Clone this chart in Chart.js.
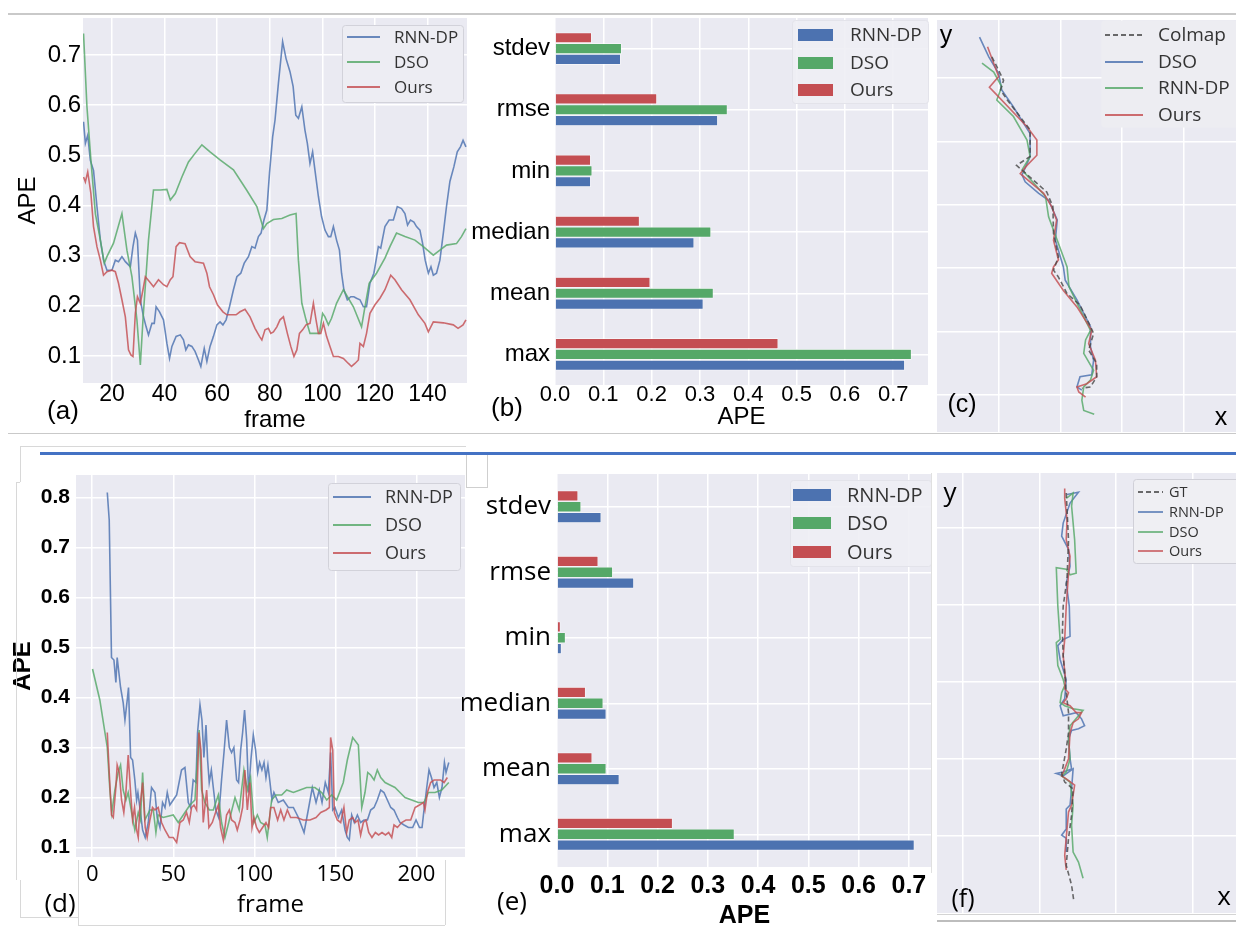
<!DOCTYPE html>
<html><head><meta charset="utf-8">
<script src="https://cdn.jsdelivr.net/npm/chart.js@4.4.0/dist/chart.umd.min.js"></script>
<style>
html,body{margin:0;padding:0;background:#fff;}
body{width:1236px;height:929px;position:relative;overflow:hidden;font-family:"Liberation Sans",Arial,sans-serif;}
canvas{position:absolute;}
.lbl{position:absolute;transform:translate(-50%,-50%);line-height:1;white-space:nowrap;color:#000;z-index:5;}
.dec{position:absolute;z-index:4;}
</style></head><body>
<div class="dec" style="left:8px;top:13px;width:1228px;height:1.5px;background:#c9c9c9"></div>
<div class="dec" style="left:8px;top:432.5px;width:1228px;height:1.5px;background:#c9c9c9"></div>
<div class="dec" style="left:40px;top:451.5px;width:1196px;height:3px;background:#4472C4"></div>
<div class="dec" style="left:20px;top:446px;width:446px;height:1px;background:#d8d8d8"></div>
<div class="dec" style="left:20px;top:446px;width:1px;height:36px;background:#d8d8d8"></div>
<div class="dec" style="left:16px;top:482px;width:4px;height:1px;background:#d8d8d8"></div>
<div class="dec" style="left:16px;top:482px;width:1px;height:398px;background:#d8d8d8"></div>
<div class="dec" style="left:20px;top:880px;width:1px;height:37px;background:#d8d8d8"></div>
<div class="dec" style="left:20px;top:917px;width:58px;height:1px;background:#d8d8d8"></div>
<div class="dec" style="left:78px;top:860px;width:1px;height:65px;background:#d8d8d8"></div>
<div class="dec" style="left:78px;top:925px;width:367px;height:1px;background:#d8d8d8"></div>
<div class="dec" style="left:445px;top:860px;width:1px;height:65px;background:#d8d8d8"></div>
<div class="dec" style="left:466px;top:455px;width:20px;height:32px;border:1px solid #cfcfcf;border-top:none"></div>
<div class="dec" style="left:931px;top:473px;width:1px;height:400px;background:#e0e0e0"></div>
<div class="dec" style="left:937px;top:914px;width:299px;height:1px;background:#d4d4d4"></div>
<div class="dec" style="left:937px;top:920px;width:299px;height:1.5px;background:#bdbdbd"></div>

<div class="lbl" style="left:63px;top:410px;font-size:26px;">(a)</div>
<div class="lbl" style="left:507px;top:407px;font-size:26px;">(b)</div>
<div class="lbl" style="left:962px;top:403px;font-size:25px;">(c)</div>
<div class="lbl" style="left:946px;top:34px;font-size:25px;">y</div>
<div class="lbl" style="left:1221px;top:416px;font-size:25px;">x</div>
<div class="lbl" style="left:60px;top:902px;font-size:26px;font-family:'Open Sans',sans-serif;">(d)</div>
<div class="lbl" style="left:512px;top:900px;font-size:26px;font-family:'Open Sans',sans-serif;">(e)</div>
<div class="lbl" style="left:963px;top:897px;font-size:25px;font-family:'Open Sans',sans-serif;">(f)</div>
<div class="lbl" style="left:950px;top:491px;font-size:26px;font-family:'Open Sans',sans-serif;">y</div>
<div class="lbl" style="left:1224px;top:895px;font-size:26px;font-family:'Open Sans',sans-serif;">x</div>

<script>
// ---------------- DATA ----------------
// (a) APE per frame, sequence 1
const frameTicksA = [20, 40, 60, 80, 100, 120, 140];
const apeTicksA = [0.1, 0.2, 0.3, 0.4, 0.5, 0.6, 0.7];
const rnnDpA = [[9.2,.567],[9.9,.524],[10.8,.54],[11.8,.49],[13,.47],[14.3,.398],[15.6,.331],[16.8,.291],[18.1,.271],[20,.271],[21.3,.291],[22.5,.288],[23.8,.298],[25.1,.288],[27,.278],[28,.318],[28.9,.345],[29.7,.331],[30.8,.212],[32,.178],[33,.158],[33.9,.142],[35.2,.165],[36.1,.165],[36.8,.198],[38.1,.188],[39.6,.172],[40.9,.125],[41.9,.095],[42.8,.119],[44.4,.139],[46,.142],[47.2,.132],[48.1,.112],[49.1,.122],[50.4,.119],[51.6,.109],[52.9,.092],[53.8,.079],[55.1,.115],[56.1,.089],[57.3,.119],[58.6,.139],[59.9,.162],[61.1,.168],[62.2,.162],[63.4,.172],[64.7,.198],[66.2,.232],[67.5,.258],[69,.265],[70.3,.285],[71.9,.298],[73.2,.318],[74.4,.315],[75.7,.338],[76.7,.345],[77.8,.371],[78.9,.391],[79.9,.464],[81.1,.537],[82,.57],[83.3,.644],[84.9,.727],[86.2,.693],[87.7,.667],[88.9,.637],[89.9,.58],[90.9,.574],[92.2,.597],[93.4,.55],[94.3,.524],[95.3,.484],[96.3,.507],[97.2,.47],[98.5,.418],[99.7,.378],[101,.351],[102.3,.338],[103.2,.338],[104.2,.358],[105.4,.331],[106.5,.311],[107.3,.265],[108.2,.232],[109.5,.212],[110.8,.218],[112,.218],[113,.215],[114.3,.212],[115.6,.198],[116.8,.198],[118.1,.245],[119.6,.265],[121.3,.318],[122.2,.315],[123.8,.358],[125.4,.371],[127,.371],[128.5,.398],[130.1,.394],[131.4,.384],[132.4,.361],[133.5,.371],[134.8,.367],[135.8,.358],[137.1,.351],[138.1,.325],[139.1,.291],[140.3,.265],[141.3,.278],[142.2,.261],[143.4,.265],[144.7,.291],[146,.345],[147.2,.398],[148.5,.448],[150,.477],[151.3,.507],[152.5,.517],[153.5,.53],[154.6,.517]];
const dsoA = [[9.2,.743],[10.5,.597],[12,.491],[13.7,.384],[15.6,.331],[17.1,.285],[18.1,.298],[20.6,.325],[23.8,.384],[25.7,.311],[27.6,.258],[29.5,.172],[30.8,.082],[31.8,.172],[33.9,.331],[35.8,.431],[38.4,.431],[40.9,.432],[42.2,.411],[44.1,.424],[46.6,.457],[49.1,.487],[51.6,.504],[54.2,.521],[57.3,.507],[61.1,.491],[66.2,.471],[71.2,.431],[75.1,.398],[77.6,.354],[78.9,.364],[81.4,.372],[84.6,.374],[87.7,.381],[90,.384],[90.9,.291],[92.2,.205],[93.8,.172],[95.3,.145],[97.2,.145],[98.9,.145],[100.1,.185],[101,.178],[102.3,.162],[103.5,.175],[105.4,.205],[108,.232],[111.8,.198],[114.9,.158],[116.2,.198],[117.8,.245],[120.6,.265],[123.8,.295],[125.7,.318],[128.2,.345],[131.4,.338],[135.2,.331],[138.4,.318],[142.2,.301],[144.7,.311],[147.2,.321],[151,.324],[152.9,.338],[154.6,.354]];
const oursA = [[9.2,.457],[9.9,.447],[10.8,.467],[12,.424],[13,.358],[14.3,.318],[15.6,.291],[16.8,.261],[18.1,.268],[20,.271],[21.3,.268],[22.5,.245],[23.8,.212],[25.1,.178],[26.3,.112],[27.2,.102],[28,.099],[28.9,.185],[29.7,.218],[30.8,.205],[31.8,.232],[32.7,.258],[34.3,.248],[35.8,.238],[37.7,.252],[39.6,.242],[40.9,.238],[42.2,.252],[43.2,.258],[44.4,.318],[45.7,.326],[47.8,.324],[49.7,.298],[51.6,.288],[54.8,.285],[56.1,.265],[57.1,.238],[58.6,.222],[60.1,.202],[62.2,.188],[63.7,.182],[65.6,.182],[67.2,.182],[68.7,.188],[70.6,.193],[72.5,.178],[74.4,.155],[76.1,.139],[77,.132],[78.2,.152],[79.5,.155],[80.4,.145],[81.4,.148],[82.7,.158],[83.9,.172],[85.2,.178],[86.7,.145],[88,.119],[89.2,.099],[90.3,.112],[91.3,.145],[92.5,.152],[93.8,.162],[95.3,.165],[96.6,.205],[97.6,.172],[98.5,.145],[99.4,.145],[100.4,.165],[101.6,.139],[102.9,.119],[104.2,.099],[106.1,.099],[108,.095],[109.9,.085],[111.1,.079],[112.4,.085],[113.7,.092],[114.3,.125],[115.6,.119],[116.8,.145],[118.1,.185],[120,.202],[121.9,.215],[123.8,.232],[126,.261],[127.6,.252],[130.1,.232],[133.3,.212],[136.5,.182],[139,.165],[140.3,.148],[142.2,.168],[146,.166],[149.8,.162],[151.6,.155],[153.5,.162],[154.6,.172]];

// (b) APE statistics, sequence 1
const statLabels = ['stdev', 'rmse', 'min', 'median', 'mean', 'max'];
const apeTicksBar = [0, 0.1, 0.2, 0.3, 0.4, 0.5, 0.6, 0.7];
const rnnDpB = [0.136, 0.337, 0.074, 0.288, 0.307, 0.724];
const dsoB   = [0.138, 0.357, 0.077, 0.323, 0.328, 0.738];
const oursB  = [0.076, 0.211, 0.074, 0.175, 0.197, 0.462];

// (c) trajectories, sequence 1 (x, y)
const gridXC = [1, 2, 3, 4];
const gridYC = [0, 1, 2, 3, 4, 5];
const colmapC = [[0.89,5.33],[1.08,4.96],[1.03,4.81],[1.14,4.65],[1.51,4.18],[1.51,3.76],[1.29,3.62],[1.41,3.52],[1.78,3.20],[1.88,2.97],[1.89,2.55],[1.97,2.18],[1.89,1.97],[1.97,1.86],[2.11,1.60],[2.32,1.42],[2.49,1.08],[2.54,0.97],[2.46,0.71],[2.59,0.50],[2.59,0.29],[2.49,0.13],[2.35,0.11]];
const dsoC = [[0.69,5.64],[0.84,5.33],[1.00,5.07],[1.05,4.81],[1.24,4.54],[1.51,4.12],[1.51,3.76],[1.38,3.47],[1.43,3.36],[1.65,3.18],[1.81,3.07],[1.95,2.76],[1.92,2.44],[2.05,2.02],[2.08,1.81],[2.27,1.50],[2.49,1.08],[2.49,0.76],[2.54,0.55],[2.51,0.32],[2.32,0.29],[2.27,0.13],[2.35,0.08]];
const rnnDpC = [[0.73,5.23],[0.92,5.09],[1.05,4.86],[0.97,4.65],[1.24,4.39],[1.46,4.02],[1.51,3.76],[1.38,3.55],[1.76,3.13],[1.81,2.81],[1.89,2.60],[1.97,2.39],[2.11,2.02],[2.14,1.71],[2.30,1.39],[2.49,1.02],[2.41,0.87],[2.38,0.66],[2.54,0.39],[2.49,0.24],[2.38,0.13],[2.35,-0.08],[2.38,-0.24],[2.55,-0.30]];
const oursC = [[0.82,5.49],[1.00,5.02],[0.85,4.85],[0.95,4.75],[1.46,4.23],[1.62,4.02],[1.62,3.78],[1.46,3.62],[1.35,3.49],[1.73,3.18],[1.86,2.97],[1.94,2.76],[1.89,2.44],[1.97,2.13],[1.89,2.02],[1.86,1.92],[2.05,1.65],[2.27,1.39],[2.51,1.02],[2.46,0.81],[2.57,0.55],[2.59,0.29],[2.43,0.18],[2.27,0.13],[2.30,0.05],[2.41,-0.03]];

// (d) APE per frame, sequence 2
const frameTicksD = [0, 50, 100, 150, 200];
const apeTicksD = [0.1, 0.2, 0.3, 0.4, 0.5, 0.6, 0.7, 0.8];
const rnnDpD = [[9.3,.81],[10.5,.755],[11.9,.48],[13.4,.475],[14.6,.43],[15.4,.48],[17.5,.42],[19.1,.39],[20.2,.355],[21.6,.395],[22.4,.42],[23.7,.28],[24.9,.275],[26.3,.235],[27.4,.195],[28.2,.21],[29.4,.18],[31.1,.135],[32.7,.12],[34.6,.15],[36.6,.22],[38.7,.21],[40.1,.16],[41.8,.14],[43.4,.19],[44.9,.18],[46.3,.21],[47.9,.185],[50,.195],[52.1,.205],[55.1,.255],[57.2,.26],[59.3,.19],[60.7,.18],[62.3,.235],[64,.23],[65,.33],[66.5,.385],[67.7,.355],[68.9,.28],[70.2,.345],[71.2,.275],[72.2,.23],[73.5,.255],[74.7,.22],[76.3,.175],[78,.16],[79.8,.235],[81.3,.29],[82.9,.355],[84.6,.3],[86,.29],[87.4,.3],[89.1,.235],[90.3,.23],[91.6,.295],[92.8,.33],[94,.375],[95.3,.315],[96.5,.21],[97.9,.275],[99.4,.325],[100.8,.295],[102.1,.25],[103.3,.27],[104.7,.255],[106,.27],[107.2,.24],[108.4,.265],[109.7,.23],[110.9,.195],[112.1,.21],[114.8,.19],[117.9,.195],[121,.18],[124.1,.18],[127.2,.16],[130.7,.13],[133.3,.175],[135.8,.22],[138.1,.19],[140.1,.215],[141.8,.19],[143.8,.23],[145.7,.21],[147.1,.29],[148.4,.175],[149.8,.18],[151.9,.16],[153.9,.175],[156,.135],[157.4,.12],[158.6,.115],[160.1,.165],[161.7,.15],[163.6,.165],[165.6,.15],[167.7,.155],[169.8,.155],[171.8,.175],[173.9,.18],[175.9,.195],[178,.215],[180,.21],[182.1,.195],[184.2,.18],[186.2,.175],[188.3,.16],[189.9,.15],[192.4,.145],[195.1,.14],[197.7,.14],[199.8,.155],[201.9,.14],[203.5,.14],[204.7,.175],[206.4,.22],[207.8,.255],[209.3,.24],[210.9,.22],[212.6,.23],[214.2,.2],[215.8,.22],[217.3,.27],[218.3,.25],[220,.27]];
const dsoD = [[0.2,.457],[4.7,.395],[9.3,.3],[10.9,.215],[12.1,.17],[14,.215],[16,.25],[17.5,.265],[19.1,.215],[20.8,.195],[22.2,.21],[24.3,.17],[26.3,.135],[28.4,.17],[29.8,.155],[31.1,.25],[32.5,.155],[35.6,.175],[37.7,.175],[39.3,.13],[40.7,.165],[43.8,.16],[50,.165],[53.1,.15],[57.2,.17],[60.3,.185],[63.4,.195],[66,.335],[67.5,.215],[69.5,.19],[72.2,.175],[74.7,.175],[77.8,.205],[79.8,.15],[81.9,.12],[85,.16],[88.1,.2],[90.7,.175],[93.6,.255],[95.7,.215],[97.7,.24],[99.8,.15],[101.9,.165],[103.9,.15],[106.6,.145],[108,.12],[110.7,.195],[113.4,.205],[116.9,.205],[120,.215],[124.1,.21],[128.2,.215],[132.3,.22],[137.4,.22],[141.6,.21],[144.7,.195],[147.7,.205],[150.8,.195],[154.9,.23],[157.4,.275],[160.7,.32],[164.2,.305],[166.3,.18],[168.3,.21],[170,.25],[171.8,.245],[173.9,.235],[175.9,.255],[178,.24],[180.7,.23],[183.7,.225],[186.8,.22],[189.9,.21],[193,.2],[197.1,.195],[201.2,.19],[204.7,.19],[207.4,.21],[211.5,.21],[215.6,.215],[220,.23]];
const oursD = [[9.3,.33],[10.5,.25],[11.9,.165],[13,.16],[14.6,.22],[15.4,.265],[16.7,.25],[18.1,.195],[19.5,.17],[20.8,.21],[22.2,.285],[23.7,.21],[24.9,.155],[26.1,.18],[27.4,.135],[28.4,.12],[29.4,.18],[31.1,.23],[32.7,.14],[33.9,.12],[35.6,.155],[37.2,.18],[38.7,.175],[40.7,.18],[42.8,.15],[44.9,.135],[47.5,.12],[50,.12],[52.1,.11],[54.1,.15],[56.2,.155],[58.2,.17],[59.9,.15],[61.3,.18],[62.8,.185],[64.4,.175],[65.8,.33],[67.1,.295],[68.5,.15],[70.6,.215],[72,.14],[74.1,.15],[76.1,.17],[77.8,.185],[79.2,.14],[80.9,.115],[82.9,.165],[84.6,.175],[86,.155],[88.1,.15],[89.5,.135],[91.2,.155],[92.8,.18],[94.2,.255],[95.7,.175],[97.3,.23],[98.6,.14],[99.8,.16],[101.4,.14],[103.1,.13],[105.1,.14],[107.2,.15],[108.8,.14],[110.1,.18],[112.1,.18],[114.4,.155],[116.3,.175],[118.3,.155],[120.4,.175],[122.4,.16],[126.1,.16],[130.2,.155],[134.4,.155],[138.1,.16],[141,.17],[144.3,.175],[146.3,.18],[147.1,.32],[148.4,.295],[149.4,.17],[151.2,.155],[153.3,.15],[155.3,.18],[157,.13],[158.6,.155],[160.7,.16],[162.3,.15],[164,.155],[165.6,.125],[167.3,.15],[168.9,.155],[170.6,.13],[172.6,.12],[174.7,.13],[176.7,.125],[178.8,.13],[180.9,.125],[182.9,.13],[184.8,.12],[186.2,.145],[188.3,.14],[190.9,.15],[193.6,.155],[196.5,.155],[199.2,.18],[201.9,.185],[204.3,.19],[205.3,.175],[206.8,.21],[208.8,.23],[210.9,.235],[213,.235],[215,.235],[217.1,.23],[219.1,.24]];

// (e) APE statistics, sequence 2
const rnnDpE = [0.088, 0.153, 0.009, 0.098, 0.124, 0.711];
const dsoE   = [0.048, 0.111, 0.017, 0.092, 0.098, 0.353];
const oursE  = [0.042, 0.082, 0.007, 0.057, 0.070, 0.230];

// (f) trajectories, sequence 2 (x, y)
const gridXF = [0, 1, 2, 3];
const gridYF = [0, 1, 2, 3, 4];
const gtF = [[1.35,4.45],[1.38,3.84],[1.36,3.33],[1.31,2.98],[1.30,2.64],[1.31,2.34],[1.33,2.12],[1.35,1.86],[1.38,1.60],[1.38,1.34],[1.35,1.13],[1.31,0.91],[1.29,0.81],[1.33,0.70],[1.44,0.61],[1.42,0.27],[1.38,-0.03],[1.35,-0.38],[1.42,-0.64],[1.45,-0.85]];
const rnnDpF = [[1.36,4.43],[1.51,4.46],[1.40,4.32],[1.31,4.06],[1.29,3.89],[1.38,3.72],[1.40,3.50],[1.35,3.28],[1.39,2.98],[1.40,2.59],[1.31,2.55],[1.24,2.47],[1.27,2.29],[1.35,2.03],[1.33,1.78],[1.27,1.69],[1.31,1.56],[1.48,1.60],[1.55,1.52],[1.59,1.43],[1.51,1.39],[1.42,1.37],[1.38,1.26],[1.40,1.00],[1.42,0.87],[1.31,0.83],[1.22,0.81],[1.31,0.78],[1.44,0.87],[1.42,0.61],[1.40,0.40],[1.35,0.35],[1.35,0.09],[1.29,0.01],[1.35,-0.03],[1.35,-0.21]];
const dsoF = [[1.35,4.38],[1.44,4.45],[1.42,4.28],[1.46,3.84],[1.48,3.41],[1.40,3.39],[1.35,3.46],[1.22,3.48],[1.24,2.98],[1.27,2.55],[1.22,2.51],[1.24,2.21],[1.31,2.03],[1.33,1.95],[1.29,1.86],[1.27,1.73],[1.33,1.69],[1.44,1.65],[1.57,1.63],[1.51,1.56],[1.40,1.43],[1.38,1.26],[1.40,1.00],[1.35,0.83],[1.29,0.78],[1.40,0.70],[1.44,0.40],[1.42,0.14],[1.44,-0.21],[1.51,-0.34],[1.57,-0.55]];
const oursF = [[1.33,4.51],[1.33,4.38],[1.36,4.10],[1.35,3.84],[1.40,3.63],[1.38,3.41],[1.35,2.98],[1.33,2.55],[1.31,2.34],[1.34,2.03],[1.33,1.91],[1.38,1.86],[1.35,1.78],[1.31,1.73],[1.40,1.69],[1.48,1.60],[1.55,1.60],[1.51,1.52],[1.44,1.47],[1.40,1.34],[1.38,1.00],[1.33,0.87],[1.29,0.78],[1.35,0.74],[1.46,0.66],[1.42,0.40],[1.38,0.31],[1.33,-0.25],[1.35,-0.44]];

// ---------------- STYLE / LAYOUT ----------------
const BG = '#EAEAF2';
const BLUE = 'rgba(76,114,176,0.82)', GREEN = 'rgba(85,168,104,0.82)', RED = 'rgba(196,78,82,0.82)', GRAY = 'rgba(70,70,70,0.8)';
const BLUE_S = '#4C72B0', GREEN_S = '#55A868', RED_S = '#C44E52';
const LS = '"Liberation Sans", Arial, sans-serif';
const OS = '"Open Sans", sans-serif';
Chart.defaults.font.family = LS;
Chart.defaults.color = '#000';

const P = {
  a: {L:0,   T:0,   W:470, H:440, area:[83,18,467,383]},
  b: {L:462, T:0,   W:472, H:440, area:[555,18,928,385]},
  c: {L:930, T:0,   W:306, H:440, area:[937,20,1236,432]},
  d: {L:0,   T:455, W:470, H:474, area:[76,475,465,857]},
  e: {L:462, T:455, W:475, H:474, area:[557,473,932,867]},
  f: {L:930, T:455, W:306, H:474, area:[937,473,1236,913]}
};

function fnt(size, family, weight) { return {size, family: family || LS, weight: weight || 'normal', lineHeight: 1}; }
function geom(p) {
  const [l, t, r, b] = p.area;
  return {padding: {left: 0, top: t - p.T, right: p.L + p.W - r, bottom: 0}, yW: l - p.L, xH: p.T + p.H - b};
}
function makeCanvas(p) {
  const c = document.createElement('canvas');
  c.width = p.W; c.height = p.H;
  c.style.left = p.L + 'px'; c.style.top = p.T + 'px';
  c.style.width = p.W + 'px'; c.style.height = p.H + 'px';
  document.body.appendChild(c);
  return c;
}
function valueAxis(min, max, ticks, o) {
  return {
    type: 'linear', min, max,
    afterBuildTicks: s => { s.ticks = ticks.map(v => ({value: v})); },
    afterFit: o.fit,
    grid: {color: '#ffffff', lineWidth: 1.5, drawTicks: false},
    border: {display: false},
    ticks: {display: o.show !== false, font: o.font, color: '#000', padding: o.pad || 0, autoSkip: false, maxRotation: 0, callback: o.fmt},
    title: o.title ? Object.assign({display: true, color: '#000'}, o.title) : {display: false}
  };
}
function catAxis(o) {
  return {
    type: 'category', offset: true,
    afterFit: o.fit,
    grid: {color: '#ffffff', lineWidth: 1.5, drawTicks: false, offset: false},
    border: {display: false},
    ticks: {font: o.font, color: '#000', padding: o.pad || 0, autoSkip: false}
  };
}
function lineDs(label, arr, color, extra) {
  return Object.assign({label, data: arr.map(p => ({x: p[0], y: p[1]})), borderColor: color, backgroundColor: color,
    borderWidth: 1.6, pointRadius: 0, pointHoverRadius: 0, showLine: true, fill: false, tension: 0}, extra || {});
}
function barDs(label, vals, color, cat) {
  return {label, data: vals, backgroundColor: color, borderColor: 'rgba(255,255,255,0.85)', borderWidth: 0.7,
    categoryPercentage: cat, barPercentage: 0.98};
}

const bgPlugin = {
  id: 'plotBg',
  beforeDraw(chart) {
    const a = chart.chartArea, ctx = chart.ctx;
    ctx.save(); ctx.fillStyle = BG; ctx.fillRect(a.left, a.top, a.right - a.left, a.bottom - a.top); ctx.restore();
  }
};
const boxLegend = {
  id: 'boxLegend',
  afterDraw(chart, args, o) {
    if (!o || !o.box) return;
    const ctx = chart.ctx, ds = chart.data.datasets, ox = o.origin[0], oy = o.origin[1];
    ctx.save();
    const [bx, by, bw, bh] = o.box;
    ctx.beginPath();
    ctx.roundRect(bx - ox + 0.5, by - oy + 0.5, bw, bh, 3);
    ctx.fillStyle = o.fill; ctx.fill();
    if (o.stroke) { ctx.strokeStyle = o.stroke; ctx.lineWidth = 1; ctx.stroke(); }
    ctx.font = o.font; ctx.textBaseline = 'middle'; ctx.textAlign = 'left';
    o.order.forEach((di, i) => {
      const d = ds[di], y = o.rows[i] - oy;
      if (o.patch) {
        ctx.fillStyle = d.backgroundColor;
        ctx.fillRect(o.mark[0] - ox, y - o.patch / 2, o.mark[1] - o.mark[0], o.patch);
      } else {
        ctx.strokeStyle = d.borderColor; ctx.lineWidth = o.lw || 2;
        ctx.setLineDash(d.borderDash || []);
        ctx.beginPath(); ctx.moveTo(o.mark[0] - ox, y); ctx.lineTo(o.mark[1] - ox, y); ctx.stroke();
        ctx.setLineDash([]);
      }
      ctx.fillStyle = o.color || '#333';
      ctx.fillText(d.label, o.textX - ox, y + 1);
    });
    ctx.restore();
  }
};
Chart.register(bgPlugin, boxLegend);

function baseOpts(p, g, scales, legend, extra) {
  return Object.assign({
    responsive: false, animation: false, devicePixelRatio: 1,
    events: [],
    layout: {padding: g.padding},
    plugins: {legend: {display: false}, tooltip: {enabled: false}, boxLegend: Object.assign({origin: [p.L, p.T]}, legend)},
    scales
  }, extra || {});
}
const f1 = v => Number(v).toFixed(1);
const fi = v => String(v);

// ---------------- (a) ----------------
(function () {
  const p = P.a, g = geom(p);
  new Chart(makeCanvas(p), {
    type: 'scatter',
    data: {datasets: [lineDs('RNN-DP', rnnDpA, BLUE, {order: 3}), lineDs('DSO', dsoA, GREEN, {order: 2}), lineDs('Ours', oursA, RED, {order: 1})]},
    options: baseOpts(p, g, {
      x: valueAxis(9, 155, frameTicksA, {fit: s => { s.height = g.xH; }, font: fnt(23), pad: 0, fmt: fi,
        title: {text: 'frame', font: fnt(24), padding: {top: 0, bottom: 8}}}),
      y: valueAxis(0.046, 0.774, apeTicksA, {fit: s => { s.width = g.yW; }, font: fnt(24), pad: 2, fmt: f1,
        title: {text: 'APE', font: fnt(24), padding: {top: 16, bottom: 0}}})
    }, {box: [342, 25, 121, 77], rows: [37, 62, 87], mark: [347, 380], textX: 394, font: '17px "Open Sans"',
        fill: '#EDEDF3', stroke: '#D2D2DA', order: [0, 1, 2], lw: 2})
  });
})();

// ---------------- (b) ----------------
(function () {
  const p = P.b, g = geom(p);
  new Chart(makeCanvas(p), {
    type: 'bar',
    data: {labels: statLabels, datasets: [barDs('Ours', oursB, RED_S, 0.53), barDs('DSO', dsoB, GREEN_S, 0.53), barDs('RNN-DP', rnnDpB, BLUE_S, 0.53)]},
    options: baseOpts(p, g, {
      x: valueAxis(0, 0.772, apeTicksBar, {fit: s => { s.height = g.xH; }, font: fnt(22), pad: -1, fmt: f1,
        title: {text: 'APE', font: fnt(24), padding: {top: 0, bottom: 11}}}),
      y: catAxis({fit: s => { s.width = g.yW; }, font: fnt(24), pad: 5})
    }, {box: [792, 20, 136, 83], rows: [35, 63, 90], mark: [798, 833], patch: 12, textX: 850, font: '19px "Open Sans"',
        fill: 'rgba(238,238,244,0.9)', stroke: '#E3E3EA', order: [2, 1, 0]}, {indexAxis: 'y'})
  });
})();

// ---------------- (c) ----------------
(function () {
  const p = P.c, g = geom(p);
  new Chart(makeCanvas(p), {
    type: 'scatter',
    data: {datasets: [
      lineDs('Colmap', colmapC, GRAY, {borderDash: [5, 3], order: 1}),
      lineDs('DSO', dsoC, BLUE, {order: 4}),
      lineDs('RNN-DP', rnnDpC, GREEN, {order: 3}),
      lineDs('Ours', oursC, RED, {order: 2})]},
    options: baseOpts(p, g, {
      x: valueAxis(0, 4.85, gridXC, {fit: s => { s.height = g.xH; }, show: false}),
      y: valueAxis(-0.58, 5.91, gridYC, {fit: s => { s.width = g.yW; }, show: false})
    }, {box: [1101, 20, 136, 107], rows: [35, 62, 88, 115], mark: [1105, 1143], textX: 1158, font: '19px "Open Sans"',
        fill: '#EDEDF2', stroke: null, order: [0, 1, 2, 3], lw: 2})
  });
})();

// ---------------- (d) ----------------
(function () {
  const p = P.d, g = geom(p);
  new Chart(makeCanvas(p), {
    type: 'scatter',
    data: {datasets: [lineDs('RNN-DP', rnnDpD, BLUE, {order: 3}), lineDs('DSO', dsoD, GREEN, {order: 2}), lineDs('Ours', oursD, RED, {order: 1})]},
    options: baseOpts(p, g, {
      x: valueAxis(-10, 230, frameTicksD, {fit: s => { s.height = g.xH; }, font: fnt(22, OS), pad: 7, fmt: fi,
        title: {text: 'frame', font: fnt(24, OS), padding: {top: 0, bottom: 12}}}),
      y: valueAxis(0.081, 0.845, apeTicksD, {fit: s => { s.width = g.yW; }, font: fnt(21, LS, 'bold'), pad: 6, fmt: f1,
        title: {text: 'APE', font: fnt(24, LS, 'bold'), padding: {top: 11, bottom: 0}}})
    }, {box: [328, 483, 132, 87], rows: [497, 525, 553], mark: [333, 371], textX: 385, font: '18px "Open Sans"',
        fill: '#EDEDF3', stroke: '#D2D2DA', order: [0, 1, 2], lw: 2})
  });
})();

// ---------------- (e) ----------------
(function () {
  const p = P.e, g = geom(p);
  new Chart(makeCanvas(p), {
    type: 'bar',
    data: {labels: statLabels, datasets: [barDs('Ours', oursE, RED_S, 0.5), barDs('DSO', dsoE, GREEN_S, 0.5), barDs('RNN-DP', rnnDpE, BLUE_S, 0.5)]},
    options: baseOpts(p, g, {
      x: valueAxis(0, 0.746, apeTicksBar, {fit: s => { s.height = g.xH; }, font: fnt(25, LS, 'bold'), pad: 7, fmt: f1,
        title: {text: 'APE', font: fnt(25, LS, 'bold'), padding: {top: 0, bottom: 0}}}),
      y: catAxis({fit: s => { s.width = g.yW; }, font: fnt(26, OS), pad: 6})
    }, {box: [790, 480, 141, 86], rows: [495, 523, 552], mark: [793, 831], patch: 12, textX: 847, font: '20px "Open Sans"',
        fill: 'rgba(238,238,244,0.9)', stroke: '#E3E3EA', order: [2, 1, 0]}, {indexAxis: 'y'})
  });
})();

// ---------------- (f) ----------------
(function () {
  const p = P.f, g = geom(p);
  new Chart(makeCanvas(p), {
    type: 'scatter',
    data: {datasets: [
      lineDs('GT', gtF, GRAY, {borderDash: [5, 3], order: 1}),
      lineDs('RNN-DP', rnnDpF, BLUE, {order: 4}),
      lineDs('DSO', dsoF, GREEN, {order: 3}),
      lineDs('Ours', oursF, RED, {order: 2})]},
    options: baseOpts(p, g, {
      x: valueAxis(-0.34, 3.57, gridXF, {fit: s => { s.height = g.xH; }, show: false}),
      y: valueAxis(-1.0, 4.71, gridYF, {fit: s => { s.width = g.yW; }, show: false})
    }, {box: [1133, 479, 106, 84], rows: [492, 512, 532, 551], mark: [1138, 1163], textX: 1169, font: '14.5px "Open Sans"',
        fill: '#EFEFF3', stroke: '#D0D0D8', order: [0, 1, 2, 3], lw: 1.8})
  });
})();
</script>
</body></html>
